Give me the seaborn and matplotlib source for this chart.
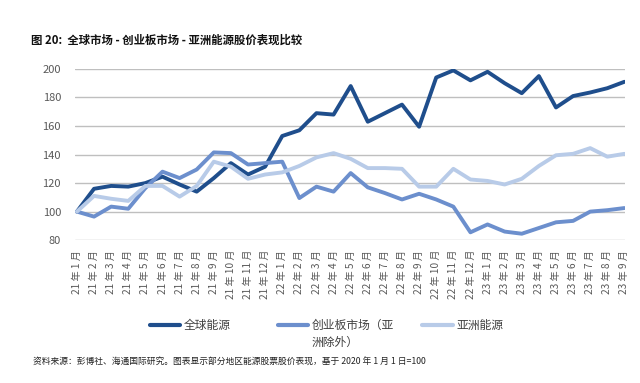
import pandas as pd
import numpy as np
import matplotlib
matplotlib.use("Agg")
import matplotlib.pyplot as plt
import seaborn as sns

sns.set_style("white")
plt.rcParams['font.family'] = ['Noto Sans CJK SC', 'DejaVu Sans']

# data (index, 2020-01-01 = 100)
months = ['21 年 1 月', '21 年 2 月', '21 年 3 月', '21 年 4 月', '21 年 5 月', '21 年 6 月', '21 年 7 月',
          '21 年 8 月', '21 年 9 月', '21 年 10 月', '21 年 11 月', '21 年 12 月', '22 年 1 月', '22 年 2 月',
          '22 年 3 月', '22 年 4 月', '22 年 5 月', '22 年 6 月', '22 年 7 月', '22 年 8 月', '22 年 9 月',
          '22 年 10 月', '22 年 11 月', '22 年 12 月', '23 年 1 月', '23 年 2 月', '23 年 3 月', '23 年 4 月',
          '23 年 5 月', '23 年 6 月', '23 年 7 月', '23 年 8 月', '23 年 9 月']
global_energy = [100, 116, 118, 117.5, 120, 124.5, 119, 114, 123.5, 134, 126, 131.5, 153, 157, 169, 168,
                 188, 163, 169, 175, 159.5, 194, 199, 192, 198, 190, 183, 195, 173, 181, 183.5, 186.5, 191]
chinext = [100, 96.5, 103.5, 102, 116.5, 128, 123.5, 129.5, 141.5, 141, 133, 134, 135, 109.5, 117.5, 114,
           127, 117, 113, 108.5, 112.5, 108.5, 103.5, 85.5, 91, 86, 84.5, 88.5, 92.5, 93.5, 100, 101, 102.5]
asia_energy = [100, 111, 109, 107.5, 118, 118, 110.5, 118, 135, 131.5, 123, 126, 127.5, 132, 138, 141,
               137, 130.5, 130.5, 130, 117.5, 117.5, 130, 122.5, 121.5, 119, 123, 132, 139.5, 140.5, 144.5, 138.5, 140.5]
series_names = ['全球能源', '创业板市场（亚洲除外）', '亚洲能源']
colors = ['#1F4E8C', '#6C8FCD', '#B8CBE8']

df = pd.DataFrame({'pos': list(range(len(months))) * 3,
                   'value': global_energy + chinext + asia_energy,
                   'series': np.repeat(series_names, len(months))})

fig = plt.figure(figsize=(6.4, 3.83), dpi=100)
ax = fig.add_axes([0.117, 0.373, 0.86, 0.447])

sns.lineplot(data=df, x='pos', y='value', hue='series', hue_order=series_names,
             palette=colors, linewidth=2.8, ax=ax, legend=False)

ax.set_ylim(80, 200)
ax.set_yticks(range(80, 201, 20))
ax.set_xlim(-0.12, 32.05)
ax.set_xticks(range(len(months)))
ax.set_xticklabels(months, rotation=90, fontsize=7.3, color='#595959', va='top')
ax.tick_params(axis='y', labelsize=8, labelcolor='#595959', length=0, pad=10)
ax.tick_params(axis='x', length=0, pad=7)
ax.grid(axis='y', color='#BFBFBF', linewidth=1)
ax.set_axisbelow(True)
for s in ax.spines.values():
    s.set_visible(False)
ax.set_xlabel('')
ax.set_ylabel('')

# legend: one entry per box so the columns sit where the reference has them,
# the long label wraps onto a second line under its first line
legend_labels = ['全球能源', '创业板市场（亚', '亚洲能源']
legend_x = [0.234, 0.434, 0.66]
for lab, c, x in zip(legend_labels, colors, legend_x):
    h = plt.Line2D([], [], color=c, linewidth=3)
    lg = fig.legend([h], [lab], loc='upper left', bbox_to_anchor=(x, 0.168),
                    frameon=False, fontsize=8.5, handlelength=2.6, handletextpad=0.3,
                    borderpad=0, borderaxespad=0, labelcolor='#404040')
    if lab.endswith('亚'):
        leg2 = lg
fig.canvas.draw()
bb = leg2.get_texts()[0].get_window_extent()
fig.text(bb.x0 / fig.bbox.width, (bb.y0 - 14) / fig.bbox.height, '洲除外）',
         fontsize=8.5, color='#404040')

fig.text(0.048, 0.885, '图 20:  全球市场 - 创业板市场 - 亚洲能源股价表现比较',
         fontsize=8.2, fontweight='bold', color='#111111')
fig.text(0.052, 0.048, '资料来源：彭博社、海通国际研究。图表显示部分地区能源股票股价表现，基于 2020 年 1 月 1 日=100',
         fontsize=6.3, color='#222222')

fig.savefig('out.png', dpi=100)
